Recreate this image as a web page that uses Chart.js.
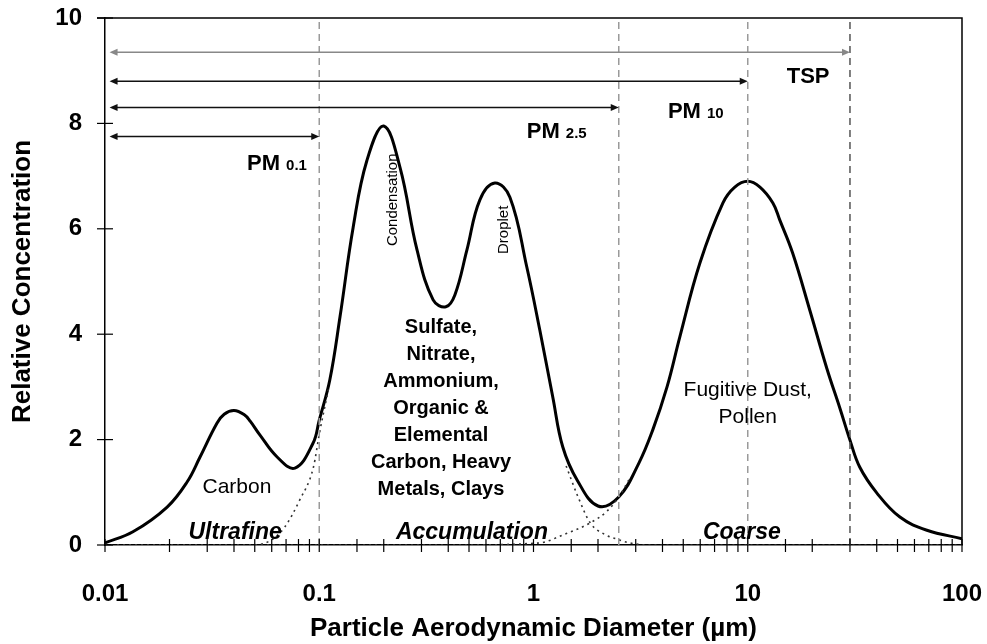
<!DOCTYPE html>
<html>
<head>
<meta charset="utf-8">
<script src="https://cdn.jsdelivr.net/npm/chart.js@4.4.1/dist/chart.umd.min.js"></script>
<style>
  body { margin: 0; background: #fff; }
  #wrap { width: 987px; height: 644px; }
</style>
</head>
<body>
<div id="wrap"><canvas id="chart-pm" width="987" height="644"></canvas></div>
<script>
// Total size distribution (solid curve)
const sizes = [0.01, 0.0135, 0.0195, 0.0242, 0.0277, 0.0333, 0.036, 0.04, 0.0447, 0.0476, 0.0528, 0.0636, 0.077, 0.0935,
  0.1, 0.112, 0.125, 0.144, 0.167, 0.2, 0.238, 0.286, 0.34, 0.39, 0.43, 0.489, 0.562, 0.66, 0.776, 0.93,
  1.07, 1.23, 1.37, 1.6, 2.0, 2.5, 3.1, 3.6, 4.2, 4.82, 5.98, 7.66, 8.7, 10, 11.4, 13.1, 14.1, 16.2, 19.5, 23.4,
  26.9, 30, 33.3, 40, 51.3, 68.6, 100];
const concentration = [0.04, 0.25, 0.72, 1.2, 1.66, 2.31, 2.48, 2.55, 2.47, 2.35, 2.09, 1.67, 1.46, 1.93,
  2.37, 3.13, 4.33, 6.03, 7.3, 7.95, 7.17, 5.6, 4.65, 4.52, 4.75, 5.6, 6.55, 6.87, 6.6, 5.28,
  4.08, 2.81, 1.86, 1.23, 0.74, 0.91, 1.55, 2.18, 3.0, 3.95, 5.35, 6.49, 6.79, 6.9, 6.79, 6.49, 6.17, 5.54, 4.45, 3.35,
  2.6, 1.99, 1.48, 0.99, 0.53, 0.28, 0.12];

// Mode tails (dotted)
const accumLeftX = [0.01, 0.05, 0.06, 0.069, 0.081, 0.094, 0.1, 0.111];
const accumLeftY = [0, 0, 0.1, 0.34, 0.85, 1.48, 2.1, 3.0];
const accumRightX = [1.42, 1.6, 1.84, 2.15, 2.5, 2.8, 3.5, 100];
const accumRightY = [1.5, 0.95, 0.42, 0.2, 0.1, 0.04, 0, 0];
const coarseTailX = [0.01, 0.4, 1.07, 1.37, 1.84, 2.2, 2.5, 2.8];
const coarseTailY = [0, 0, 0.04, 0.19, 0.42, 0.64, 0.91, 1.25];

// Size cuts and their arrows
const cutSizes = [0.1, 2.5, 10, 30];
const cutColors = ['#9a9a9a', '#9a9a9a', '#9a9a9a', '#555555'];
const arrowStart = 0.0105;
const arrowLevels = [7.75, 8.3, 8.8, 9.35];
const arrowColors = ['#111', '#111', '#111', '#888'];
const cutNames = ['PM', 'PM', 'PM', 'TSP'];
const cutSubs = ['0.1', '2.5', '10', ''];
const cutLabelX = [0.046, 0.93, 4.24, 15.2];
const cutLabelY = [7.12, 7.72, 8.1, 8.77];

const xTicks = [0.01, 0.1, 1, 10, 100];
const yTicks = [0, 2, 4, 6, 8, 10];

const FONT = "'Liberation Sans', Arial, sans-serif";

// text notes inside the plot (data coordinates)
const notes = [
  { lines: ['Carbon'], x: 0.0413, y: 1.1, font: '21px ' + FONT },
  { lines: ['Sulfate,', 'Nitrate,', 'Ammonium,', 'Organic &', 'Elemental', 'Carbon, Heavy', 'Metals, Clays'],
    x: 0.37, y: 4.12, font: 'bold 20px ' + FONT, step: 27 },
  { lines: ['Fugitive Dust,', 'Pollen'], x: 10, y: 2.94, font: '21px ' + FONT, step: 27 },
  { lines: ['Ultrafine'], x: 0.0405, y: 0.23, font: 'italic bold 23px ' + FONT },
  { lines: ['Accumulation'], x: 0.516, y: 0.23, font: 'italic bold 23px ' + FONT },
  { lines: ['Coarse'], x: 9.39, y: 0.23, font: 'italic bold 23px ' + FONT },
  { lines: ['Condensation'], x: 0.221, y: 6.55, font: '15px ' + FONT, rotate: true },
  { lines: ['Droplet'], x: 0.727, y: 5.98, font: '15px ' + FONT, rotate: true },
];

function toPoints(xs, ys) {
  return xs.map((v, i) => ({ x: v, y: ys[i] }));
}

const datasets = [];
cutSizes.forEach((c, i) => {
  datasets.push({
    data: [{ x: c, y: 0 }, { x: c, y: 10 }],
    borderColor: cutColors[i], borderWidth: 1.5, borderDash: [7, 5],
    pointRadius: 0, tension: 0
  });
});
[[accumLeftX, accumLeftY], [accumRightX, accumRightY], [coarseTailX, coarseTailY]].forEach(p => {
  datasets.push({
    data: toPoints(p[0], p[1]),
    borderColor: '#333', borderWidth: 1.6, borderDash: [2, 4],
    pointRadius: 0, cubicInterpolationMode: 'monotone'
  });
});
datasets.push({
  data: toPoints(sizes, concentration),
  borderColor: '#000', borderWidth: 3,
  pointRadius: 0, tension: 0.4
});

const overlay = {
  id: 'overlay',
  afterDatasetsDraw(chart) {
    const { ctx, chartArea: a, scales: { x, y } } = chart;
    ctx.save();
    ctx.strokeStyle = '#000';
    ctx.lineWidth = 1.5;
    // frame top + right
    ctx.beginPath();
    ctx.moveTo(a.left - 8, a.top);
    ctx.lineTo(a.right, a.top);
    ctx.lineTo(a.right, a.bottom);
    ctx.stroke();
    // tick marks crossing the axes
    ctx.lineWidth = 1.2;
    x.ticks.forEach(t => {
      const px = x.getPixelForValue(t.value);
      ctx.beginPath();
      ctx.moveTo(px, a.bottom - 6);
      ctx.lineTo(px, a.bottom + 7);
      ctx.stroke();
    });
    y.ticks.forEach(t => {
      const py = y.getPixelForValue(t.value);
      ctx.beginPath();
      ctx.moveTo(a.left - 8, py);
      ctx.lineTo(a.left + 8, py);
      ctx.stroke();
    });
    // arrows
    const x0 = x.getPixelForValue(arrowStart);
    cutSizes.forEach((c, i) => {
      const x1 = x.getPixelForValue(c);
      const py = y.getPixelForValue(arrowLevels[i]);
      ctx.strokeStyle = arrowColors[i];
      ctx.fillStyle = arrowColors[i];
      ctx.lineWidth = 1.5;
      ctx.beginPath();
      ctx.moveTo(x0 + 4, py);
      ctx.lineTo(x1 - 4, py);
      ctx.stroke();
      ctx.beginPath();
      ctx.moveTo(x0, py); ctx.lineTo(x0 + 8, py - 3.5); ctx.lineTo(x0 + 8, py + 3.5); ctx.closePath();
      ctx.fill();
      ctx.beginPath();
      ctx.moveTo(x1, py); ctx.lineTo(x1 - 8, py - 3.5); ctx.lineTo(x1 - 8, py + 3.5); ctx.closePath();
      ctx.fill();
      // label
      ctx.fillStyle = '#000';
      ctx.textAlign = 'left';
      ctx.textBaseline = 'alphabetic';
      const lx = x.getPixelForValue(cutLabelX[i]);
      const ly = y.getPixelForValue(cutLabelY[i]);
      ctx.font = 'bold 22px ' + FONT;
      const main = cutSubs[i] ? cutNames[i] + ' ' : cutNames[i];
      ctx.fillText(main, lx, ly);
      if (cutSubs[i]) {
        const w = ctx.measureText(main).width;
        ctx.font = 'bold 15px ' + FONT;
        ctx.fillText(cutSubs[i], lx + w, ly);
      }
    });
    // notes
    ctx.fillStyle = '#000';
    ctx.textAlign = 'center';
    ctx.textBaseline = 'middle';
    notes.forEach(n => {
      const px = x.getPixelForValue(n.x);
      const py = y.getPixelForValue(n.y);
      ctx.font = n.font;
      if (n.rotate) {
        ctx.save();
        ctx.translate(px, py);
        ctx.rotate(-Math.PI / 2);
        ctx.fillText(n.lines[0], 0, 0);
        ctx.restore();
      } else {
        n.lines.forEach((l, k) => ctx.fillText(l, px, py + k * (n.step || 0)));
      }
    });
    ctx.restore();
  }
};

const config = {
  type: 'line',
  data: { datasets: datasets },
  options: {
    responsive: false,
    animation: false,
    layout: { padding: { top: 18, right: 25, left: 0, bottom: 0 } },
    plugins: { legend: { display: false }, tooltip: { enabled: false } },
    scales: {
      x: {
        type: 'logarithmic',
        min: 0.01,
        max: 100,
        afterFit: s => { s.height = 99; s.paddingLeft = 0; s.paddingRight = 0; },
        grid: { display: false, drawTicks: false },
        border: { display: true, color: '#000', width: 1.5 },
        ticks: {
          autoSkip: false,
          maxRotation: 0,
          padding: 35,
          color: '#000',
          font: { family: FONT, size: 24, weight: 'bold' },
          callback: v => {
            const hit = xTicks.find(t => Math.abs(Math.log10(v) - Math.log10(t)) < 1e-6);
            return hit === undefined ? '' : String(hit);
          }
        },
        title: {
          display: true,
          text: 'Particle Aerodynamic Diameter (µm)',
          color: '#000',
          font: { family: FONT, size: 26, weight: 'bold' },
          padding: { top: 0, bottom: 0 }
        }
      },
      y: {
        min: 0,
        max: 10,
        afterFit: s => { s.width = 105; s.paddingTop = 0; s.paddingBottom = 0; },
        afterBuildTicks: s => { s.ticks = yTicks.map(v => ({ value: v })); },
        grid: { display: false, drawTicks: false },
        border: { display: true, color: '#000', width: 1.5 },
        ticks: {
          padding: 23,
          color: '#000',
          font: { family: FONT, size: 24, weight: 'bold' }
        },
        title: {
          display: true,
          text: 'Relative Concentration',
          color: '#000',
          font: { family: FONT, size: 26, weight: 'bold' },
          padding: { top: 7, bottom: 0 }
        }
      }
    }
  },
  plugins: [overlay]
};

const pmChart = new Chart(document.getElementById('chart-pm'), config);
</script>
</body>
</html>
